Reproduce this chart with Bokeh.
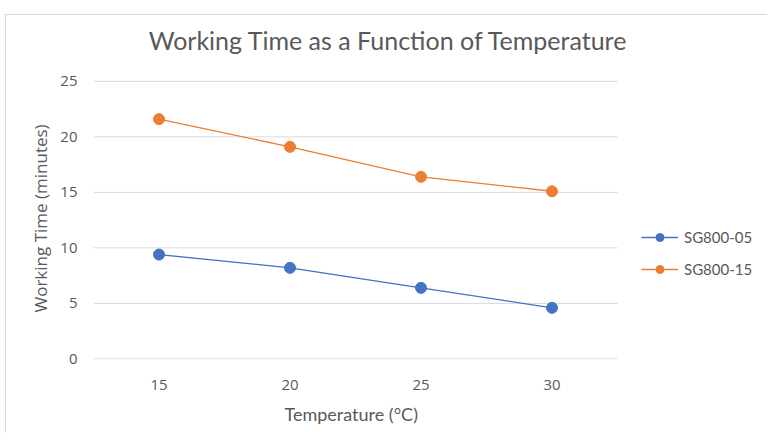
from bokeh.plotting import figure
from bokeh.models import Legend, LegendItem, FixedTicker, Range1d, Label, Title
from bokeh.embed import file_html
from bokeh.resources import INLINE

temps = [15, 20, 25, 30]
sg800_05 = [9.4, 8.2, 6.4, 4.6]
sg800_15 = [21.6, 19.1, 16.4, 15.1]
y_ticks = [0, 5, 10, 15, 20, 25]
series_names = ["SG800-05", "SG800-15"]
title_text = "Working Time as a Function of Temperature"
x_label = "Temperature (°C)"
y_label = "Working Time (minutes)"

# layout (pixels): plot area of the chart inside a larger drawing frame
W, H = 767, 433
PL, PR, PT, PB = 93, 617, 81, 359
XMIN, XMAX, YMIN, YMAX = 12.5, 32.5, 0, 25
xs = (PR - PL) / (XMAX - XMIN)
ys = (PB - PT) / (YMAX - YMIN)

TXT = "#595959"
p = figure(width=W, height=H, output_backend="svg", toolbar_location=None,
           x_range=Range1d(XMIN, XMAX + (W - PR) / xs),
           y_range=Range1d(YMIN - 0.6 / ys, YMAX + PT / ys),
           min_border_left=PL, min_border_right=0, min_border_top=0, min_border_bottom=H - PB)
p.outline_line_color = None
p.xgrid.grid_line_color = None
p.ygrid.grid_line_color = None
p.background_fill_color = None
p.border_fill_color = None
# chart border (left and top edges, as in the reference)
p.styles = {
    "background-color": "white",
    "background-image": "linear-gradient(#d9d9d9, #d9d9d9), linear-gradient(#d9d9d9, #d9d9d9)",
    "background-size": "1px calc(100% - 14px), calc(100% - 5px) 1px",
    "background-position": "5px 14px, 5px 14px",
    "background-repeat": "no-repeat",
}

# horizontal gridlines limited to the plot area
p.segment(x0=XMIN, x1=XMAX, y0=y_ticks, y1=y_ticks, line_color="#d9d9d9", line_width=1)

for ax in (p.xaxis[0], p.yaxis[0]):
    ax.axis_line_color = None
    ax.major_tick_line_color = None
    ax.minor_tick_line_color = None
    ax.major_tick_out = 0
    ax.major_tick_in = 0
    ax.major_label_text_color = TXT
    ax.major_label_text_font = "Open Sans"
    ax.major_label_text_font_size = "15px"

p.xaxis.bounds = (XMIN, XMAX)
p.yaxis.bounds = (YMIN, YMAX)
p.xaxis.ticker = FixedTicker(ticks=temps)
p.yaxis.ticker = FixedTicker(ticks=y_ticks)
p.xaxis.major_label_standoff = 20
p.yaxis.major_label_standoff = 16

p.add_layout(Title(text=y_label, align="left", offset=47, standoff=12,
                   text_color=TXT, text_font="Open Sans", text_font_size="17px",
                   text_font_style="normal"), "left")
p.add_layout(Title(text=x_label, align="left", offset=191, standoff=16,
                   text_color=TXT, text_font="Lato", text_font_size="18px",
                   text_font_style="normal"), "below")

blue = "#4472C4"
orange = "#ED7D31"
l1 = p.line(temps, sg800_05, line_color=blue, line_width=1.3)
c1 = p.scatter(temps, sg800_05, size=11, fill_color=blue, line_color=blue)
l2 = p.line(temps, sg800_15, line_color=orange, line_width=1.3)
c2 = p.scatter(temps, sg800_15, size=11, fill_color=orange, line_color=orange)

legend = Legend(items=[LegendItem(label=series_names[0], renderers=[l1, c1]),
                       LegendItem(label=series_names[1], renderers=[l2, c2])],
                location=(641 - PL, PB - 279), padding=0, margin=0, spacing=12,
                glyph_width=37, glyph_height=20, label_standoff=6,
                border_line_color=None, background_fill_alpha=0,
                label_text_color=TXT, label_text_font="Lato", label_text_font_size="15px")
p.add_layout(legend, "center")

p.add_layout(Label(x=388 - PL, y=PB - 39, x_units="screen", y_units="screen", text=title_text,
                   text_align="center", text_baseline="middle", text_color=TXT,
                   text_font="Lato", text_font_size="25px"))

open("out.html", "w").write(file_html(p, INLINE))
